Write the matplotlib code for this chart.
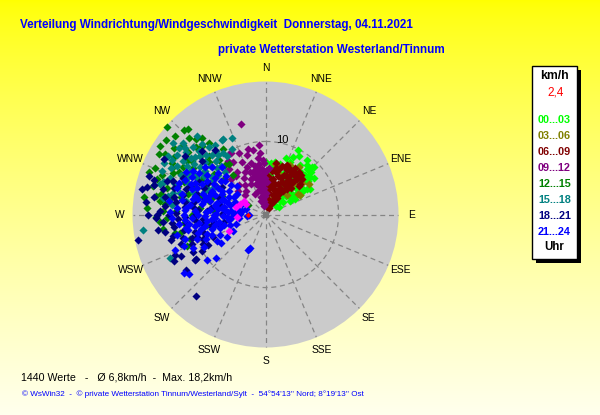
import numpy as np
import matplotlib
matplotlib.use("Agg")
import matplotlib.pyplot as plt
from matplotlib.patches import Rectangle

# ---------------- data (wind direction in degrees, speed in km/h) ----------------
hour_bins = ["00...03", "03...06", "06...09", "09...12", "12...15", "15...18", "18...21", "21...24"]
bin_colors = ["#00ff00", "#808000", "#800000", "#800080", "#008000", "#008080", "#000080", "#0000ff"]

pts_00_03 = [(27,9.9),(44,9.1),(53,8.3),(51,7.3),(59,6.7),(56,5.7),(25,7.9),(16,7.2),(10,7.3),(0,7.2),
             (24,6.4),(32,7.1),(39,6.8),(40,5.5),(48,3.8),(46,2.7),(52,1.9),(39,3.9),(60,5.4),(60,2.1),
             (6,7.1),(26,8.7),(46,9.3),(60,7.0),(52,7.4),(45,6.3),(41,7.6),(47,5.5),(61,3.8),(28,4.7),
             (6,5.4),(7,6.5),(33,5.8),(35,8.3),(30,9.2),(42,8.4),(48,7.9),(55,6.2),(50,4.6),(43,4.4),
             (57,4.2),(54,3.0),(36,6.4),(44,5.0),(38,7.5),(49,6.9),(20,8.2),(18,6.0),(31,5.2),(58,5.0),
             (63,4.6),(47,8.6),(34,3.2),(45,7.6),(50,8.0),(53,5.6),(40,8.8),(37,9.4),(56,4.8),(42,3.4),
             (58,6.0)]
pts_03_06 = [(11,7.1),(60,5.4),(24,2.3),(58,5.3),(30,6.4),(44,7.0),(20,5.8),(38,4.5),(50,6.6),(27,3.8),
             (15,6.8),(35,8.0),(48,4.0),(42,5.8),(33,5.0),(55,7.2),(26,7.5)]
pts_06_09 = [(32,1.0),(30,1.6),(33,2.2),(35,2.8),(34,3.4),(36,4.0),(37,4.6),(38,5.2),(40,5.8),(41,6.5),
             (20,1.2),(15,2.0),(10,3.0),(5,4.0),(3,5.3),(13,6.6),(18,5.5),(25,6.0),(22,4.5),(28,7.0),
             (24,7.4),(30,6.9),(19,7.0),(12,5.0),(8,6.0),(26,3.5),(45,6.8),(42,7.2),(48,6.3),(35,7.0),
             (44,5.0),(16,3.8),(21,2.8),(27,5.0),(31,6.2),(38,7.4),(12,7.2),(6,2.2),(3,1.5),(10,1.0),
             (46,7.0),(49,6.0),(25,2.0),(29,4.2),(33,5.5),(40,4.5),(36,6.6),(18,4.4),(14,6.0),(9,4.8),
             (23,7.0),(32,7.5),(4,3.0),(7,3.6),(20,3.5),(23,5.5),(28,6.0),(17,6.5),(26,6.8),(14,4.5),
             (11,4.0),(31,4.8),(35,5.8),(39,6.6)]
pts_09_12 = [(354.5,9.6),(342.5,8.6),(336.6,9.1),(331,9.6),(336,7.8),(344.8,12.9),(345,9.3),(321.4,7.9),
             (322.7,6.6),(325,5.0),(347.6,6.8),(313.6,3.9),(329,9.6),(358,7.0),(355,6.2),(352,5.5),
             (350,4.8),(356,4.2),(348,3.8),(353,3.0),(358,2.5),(355,1.8),(350,1.2),(345,2.5),(342,4.4),
             (338,5.3),(348,6.4),(357,7.4),(359,5.0),(352,7.8),(346,5.8),(340,6.2),(335,4.6),(330,5.8),
             (326,7.0),(318,5.5),(320,4.2),(333,3.2),(343,3.4),(357,3.6),(351,2.2),(0,6.0),(2,4.5),
             (355,8.4),(339,7.0),(328,8.4),(316,6.8),(310,5.0),(340,2.0),(349,9.0),(334,6.4),(325,9.0),
             (344,7.4),(350,6.0),(360,3.0),(4,6.4),(353,6.9),(347,5.0),(356,5.6),(354,4.0),(357,5.0),
             (351,3.4),(349,5.4),(353,4.6),(358,6.0),(346,4.4),(344,6.0),(341,5.4),(356,2.8),(359,1.5),
             (352,6.4)]
pts_12_15 = [(311.6,18.0),(315,14.8),(317.5,14.0),(317.2,12.7),(327.5,10.7),(299.5,16.7),(284.4,15.9),
             (279.7,15.2),(273.3,16.2),(268.8,15.0),(275.8,13.8),(258.3,12.7),(258,12.0),(259.9,8.2),
             (298.9,2.7),(296.2,14.3),(300,13.0),(303,11.8),(306,15.4),(309,13.6),(312,12.0),(305,10.2),
             (308,9.0),(313,10.6),(316,11.2),(320,9.8),(322,12.5),(318,15.8),(302,14.8),(297,12.2),
             (294,13.8),(291,15.2),(288,12.6),(285,14.0),(282,11.8),(290,10.4),(295,9.3),(286,9.2),
             (280,13.2),(277,14.6),(272,12.3),(268,13.5),(264,11.2),(270,10.0),(276,9.0),(262,14.2),
             (252,10.8),(248,11.6),(300,7.8),(310,7.5),(293,6.4),(287,7.6),(320,7.0),(324,8.6),
             (301,16.0),(307,17.0),(290,17.0),(283,8.0),(274,7.0),(321,8.7),(296,13.2),(299,14.6),
             (304,13.0),(306,12.4),(310,14.8),(314,13.2),(316,16.0),(320,13.6),(311,16.4),(303,17.2),
             (293,16.4),(288,15.6),(281,14.6),(278,16.8),(272,14.0),(266,14.5),(285,11.0),(292,12.0),
             (298,10.0),(312,11.0)]
pts_15_18 = [(307.5,15.0),(309.4,14.3),(262.8,16.9),(245.7,14.4),(329.6,11.8),(317.9,11.0),(287.8,14.7),
             (330.9,11.9),(284.7,15.8),(300,12.0),(303,13.4),(306,11.0),(309,12.4),(312,10.0),(315,11.6),
             (318,13.0),(321,10.4),(324,11.8),(327,9.6),(305,9.0),(310,8.4),(314,9.2),(298,10.6),
             (295,12.8),(292,11.4),(289,13.2),(296,14.4),(293,15.4),(301,15.6),(304,14.6),(311,15.0),
             (287,10.4),(284,12.0),(281,13.6),(290,9.0),(298,8.0),(302,10.0),(307,12.8),(316,8.0),
             (320,12.0),(325,10.2),(333,10.0),(336,11.4),(286,15.0),(280,11.0),(276,12.8),(299,13.8),
             (313,13.6),(308,16.0),(294,8.6),(296,11.8),(299,11.2),(302,12.6),(305,12.0),(308,13.8),
             (311,11.0),(314,12.6),(317,10.0),(319,14.2),(322,11.0),(300,14.8),(297,15.6),(291,14.0),
             (288,14.6),(283,13.0),(279,14.2),(306,10.2),(303,8.6),(312,12.0),(318,9.0)]
pts_18_21 = [(298.7,15.8),(288.5,16.8),(281.7,17.2),(269.8,16.1),(258.7,17.8),(265.6,14.0),(242.7,11.1),
             (237.2,11.5),(241.9,8.9),(314.9,12.3),(321.9,11.2),(252.1,10.6),(220.3,14.6),(237.8,11.3),
             (245,9.5),(248,10.8),(251,12.2),(244,12.8),(247,7.8),(253,8.8),(256,10.0),(259,11.3),
             (262,12.6),(255,13.4),(246,13.6),(263,7.2),(266,8.6),(269,9.8),(264,10.9),(267,12.0),
             (270,13.2),(272,14.5),(275,11.0),(278,12.3),(274,9.2),(277,7.5),(280,10.0),(283,11.6),
             (286,13.0),(289,14.2),(284,8.6),(287,9.8),(291,11.0),(294,12.4),(292,8.0),
             (296,10.2),(299,9.0),(302,7.0),(260,5.8),(271,6.0),(282,6.4),(290,6.8),(256,6.4),
             (268,15.0),(279,15.5),(262,14.8),(285,15.8),(276,16.5),(240,10.0),(235,13.2),(243,14.0),
             (258,7.6),(261,8.6),(265,9.6),(268,11.0),(271,12.2),(273,8.0),(276,10.0),(279,11.2),
             (281,12.8),(284,14.4),(288,11.5),(290,13.4),(293,9.2),(252,9.8),(249,9.2),(254,11.8),
             (257,13.0),(260,14.0),(265,12.8),(270,14.8),(275,13.8),(280,14.0),(283,16.6),(287,16.0),
             (306,13.6),(310,11.4)]
pts_21_24 = [(248.6,13.3),(234.4,13.8),(231.9,13.3),(232,10.1),(237.3,7.3),(249.1,7.9),(240.2,6.1),
             (205.8,5.4),(205,5.0),(253.5,5.1),(275.6,4.0),(271.3,13.1),(292,4.5),(296,5.5),(298,6.8),
             (294,8.0),(300,9.2),(291,10.0),(297,11.3),(293,12.0),(299,7.5),(290,6.0),(282,3.8),
             (285,5.0),(288,6.3),(281,7.1),(286,8.4),(283,9.5),(289,10.6),(284,11.8),(287,12.6),
             (280,5.8),(288,4.4),(282,10.2),(272,3.5),(276,4.8),(278,6.0),(271,6.8),(275,7.6),
             (279,8.8),(273,9.6),(277,10.4),(270,11.2),(274,12.2),(278,13.4),(276,5.6),(272,8.2),
             (262,3.6),(266,4.6),(268,5.8),(261,6.5),(265,7.4),(269,8.3),(263,9.2),(267,10.1),
             (260,11.0),(264,11.9),(268,12.8),(266,6.9),(252,4.2),(256,5.9),(258,7.0),(251,8.4),
             (255,9.6),(259,10.8),(253,11.5),(257,12.4),(254,6.5),(243,5.0),(246,6.8),(248,8.8),
             (242,9.5),(245,11.0),(249,12.0),(241,7.6),(303,6.0),(306,8.5),(302,10.8),(305,4.8),
             (309,7.2),(310,6.2),(314,7.5),(317,8.8),(312,9.8),(308,10.5),(315,5.5),(286,2.8),
             (264,2.6),(295,3.5),(229,9.0),(270,2.3),(262,5.0),(267,5.3),(271,4.2),(278,3.2),
             (283,6.8),(287,5.4),(291,7.4),(295,6.6),(299,5.0),(301,8.2),(296,9.6),(292,11.0),
             (288,9.0),(284,7.8),(279,7.0),(274,5.2),(269,7.0),(264,8.0),(259,8.4),(255,7.6),
             (261,9.8),(266,11.0),(270,9.2),(275,10.9),(280,11.6),(285,10.0),(290,12.6),(294,10.6),
             (298,12.3),(301,11.6),(304,9.6),(307,7.6),(311,8.6),(289,8.0),(282,8.6),(276,6.6),
             (273,11.0),(263,10.5),(257,9.0),(250,10.0)]
pts_marked = [(302,3.4),(264,3.9),(245.5,5.5),(285,4.2),(298,3.0),(292,3.8)]
current_value = (270, 2.4)

groups = [pts_00_03, pts_03_06, pts_06_09, pts_09_12, pts_12_15, pts_15_18, pts_18_21, pts_21_24]

compass_labels = ["N", "NNE", "NE", "ENE", "E", "ESE", "SE", "SSE",
                  "S", "SSW", "SW", "WSW", "W", "WNW", "NW", "NNW"]
ring_value = 10
r_max = 18.2
n_values = 1440
mean_speed = "6,8"
max_speed = "18,2"
current_label = "2,4"

title = "Verteilung Windrichtung/Windgeschwindigkeit  Donnerstag, 04.11.2021"
subtitle = "private Wetterstation Westerland/Tinnum"
footer1 = f"{n_values} Werte   -   \u00d8 {mean_speed}km/h  -  Max. {max_speed}km/h"
footer2 = ("\u00a9 WsWin32  -  \u00a9 private Wetterstation Tinnum/Westerland/Sylt  -  "
           "54\u00b054'13'' Nord; 8\u00b019'13'' Ost")

# ---------------- figure ----------------
W, H = 600, 415
fig = plt.figure(figsize=(W / 100, H / 100), dpi=100)

bg = fig.add_axes([0, 0, 1, 1], zorder=0)
t = np.linspace(0, 1, 300)[:, None]
grad = np.dstack([np.ones_like(t), np.ones_like(t), 0.93 * t ** 0.75])
bg.imshow(grad, extent=[0, W, H, 0], aspect="auto", interpolation="bilinear")
bg.set_xlim(0, W)
bg.set_ylim(H, 0)
bg.axis("off")

cx, cy, R = 265.5, 214.5, 133.0
ax = fig.add_axes([(cx - R) / W, (H - cy - R) / H, 2 * R / W, 2 * R / H],
                  projection="polar", zorder=1)
ax.set_theta_zero_location("N")
ax.set_theta_direction(-1)
ax.set_ylim(0, r_max)
ax.set_facecolor("#cbcbcb")
ax.spines["polar"].set_visible(False)
ax.grid(False)
ax.set_xticks([])
ax.set_yticks([])

grid_col = "#858585"
for k in range(16):
    th = np.deg2rad(k * 22.5)
    ax.plot([th, th], [0, r_max], color=grid_col, lw=0.9, ls=(0, (4, 3)), zorder=1)
th_ring = np.linspace(0, 2 * np.pi, 361)
ax.plot(th_ring, np.full_like(th_ring, ring_value), color=grid_col, lw=0.9, ls=(0, (4, 3)), zorder=1)
ax.text(np.deg2rad(13), 10.4, str(ring_value), ha="center", va="center",
        fontsize=8, family="Liberation Sans", color="black", zorder=2)

for k, lab in enumerate(compass_labels):
    ax.text(np.deg2rad(k * 22.5), 20.0, lab, ha="center", va="center", fontsize=7.4,
            family="Liberation Sans", color="black", clip_on=False)

for pts, col in zip(groups, bin_colors):
    d = np.deg2rad([p[0] for p in pts])
    s = [p[1] for p in pts]
    ax.scatter(d, s, marker="D", s=17, c=col, linewidths=0, zorder=3, clip_on=False)
ax.scatter(np.deg2rad([p[0] for p in pts_marked]), [p[1] for p in pts_marked],
           marker="D", s=17, c="#ff00ff", linewidths=0, zorder=4)
ax.scatter([np.deg2rad(current_value[0])], [current_value[1]], marker="D", s=8,
           c="#ff0000", linewidths=0, zorder=5)
ax.scatter([0], [0], marker="s", s=14, c="#7a7a7a", linewidths=0, zorder=5)

# ---------------- texts ----------------
bg.text(20, 25, title, color="#0000ff", fontweight="bold", fontsize=8.4,
        family="Liberation Sans", ha="left", va="center")
bg.text(218, 50, subtitle, color="#0000ff", fontweight="bold", fontsize=8.4,
        family="Liberation Sans", ha="left", va="center")
bg.text(21, 377, footer1, color="black", fontsize=7.7, family="Liberation Sans",
        ha="left", va="center")
bg.text(22, 394, footer2, color="#0000ff", fontsize=5.85, family="Liberation Sans",
        ha="left", va="center")

# ---------------- legend box ----------------
lx, ly, lw_, lh = 531.7, 66.0, 45.6, 193.3
bg.add_patch(Rectangle((lx + 4, ly + 4), lw_, lh, fc="black", ec="none", zorder=2))
bg.add_patch(Rectangle((lx, ly), lw_, lh, fc="white", ec="black", lw=1, zorder=3))
lcx = lx + lw_ / 2
bg.text(lcx, 76, "km/h", ha="center", va="center", fontsize=8.8, fontweight="bold",
        family="Liberation Sans", color="black", zorder=4)
bg.text(lcx + 1, 92.5, current_label, ha="center", va="center", fontsize=8.5,
        family="Liberation Sans", color="#ff0000", zorder=4)
for i, (lab, col) in enumerate(zip(hour_bins, bin_colors)):
    bg.text(lcx, 119.5 + 16 * i, lab, ha="center", va="center", fontsize=7.8,
            fontweight="bold", family="Liberation Sans", color=col, zorder=4)
bg.text(lcx, 247, "Uhr", ha="center", va="center", fontsize=8.3, fontweight="bold",
        family="Liberation Sans", color="black", zorder=4)

fig.savefig("out.png", dpi=100)
